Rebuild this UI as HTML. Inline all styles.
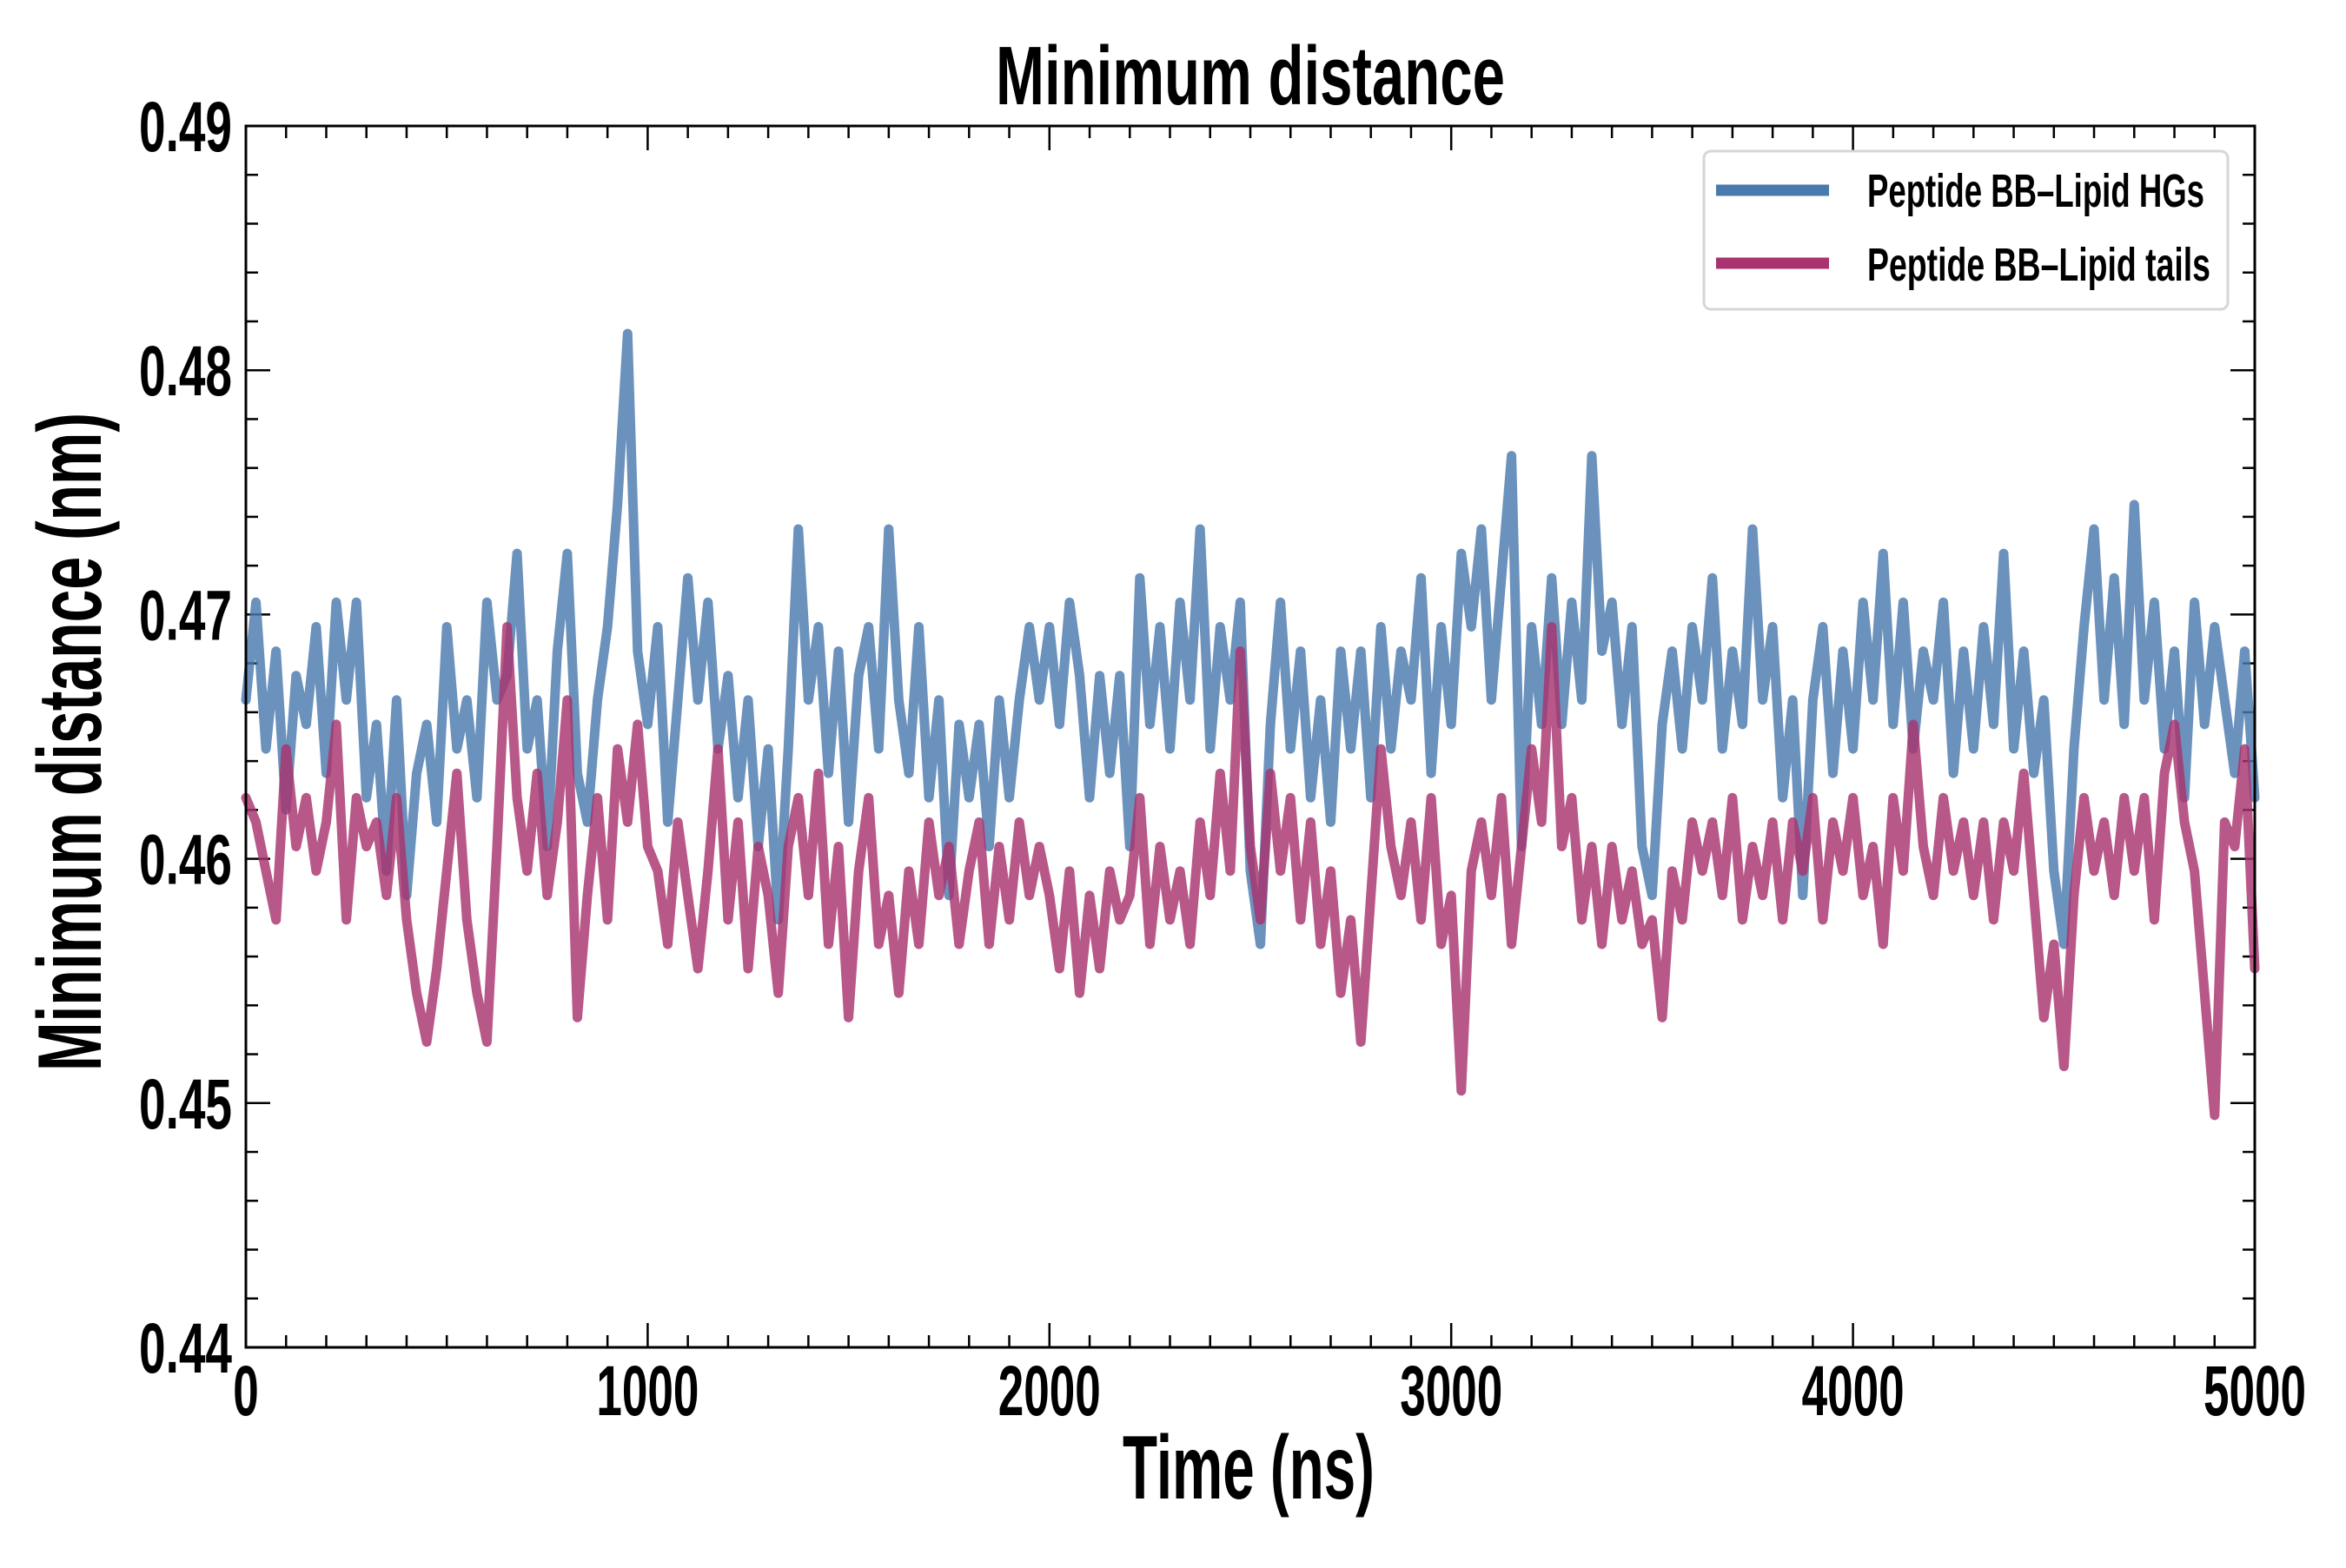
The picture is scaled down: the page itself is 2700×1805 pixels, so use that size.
<!DOCTYPE html>
<html><head><meta charset="utf-8"><style>
html,body{margin:0;padding:0;background:#fff;}
svg text{font-family:"Liberation Sans",sans-serif;font-weight:bold;fill:#000;}
</style></head>
<body>
<svg id="chart" width="2700" height="1800" viewBox="0 0 2700 1800" xmlns="http://www.w3.org/2000/svg">
<rect width="2700" height="1800" fill="#fff"/>
<g id="ticks"></g>
<g id="series"></g>
<rect x="283" y="145" width="2312" height="1406" fill="none" stroke="#000" stroke-width="3"/>
<g id="labels"></g>
<text x="1439" y="120" font-size="96" text-anchor="middle" textLength="586" lengthAdjust="spacingAndGlyphs">Minimum distance</text>
<text x="1437" y="1725" font-size="104" text-anchor="middle" textLength="290" lengthAdjust="spacingAndGlyphs">Time (ns)</text>
<text transform="translate(116,854) rotate(-90)" x="0" y="0" font-size="104" text-anchor="middle" textLength="758" lengthAdjust="spacingAndGlyphs">Minimum distance (nm)</text>
<g>
<rect x="1961" y="174" width="603" height="182" rx="8" fill="#fff" fill-opacity="0.85" stroke="#d6d6d6" stroke-width="3"/>
<g>
<line x1="1975" y1="219" x2="2105" y2="219" stroke="#4a7aad" stroke-width="13"/>
<text x="2149" y="238" font-size="54" textLength="388" lengthAdjust="spacingAndGlyphs">Peptide BB–Lipid HGs</text>
</g>
<g>
<line x1="1975" y1="303" x2="2105" y2="303" stroke="#a8336f" stroke-width="13"/>
<text x="2149" y="323" font-size="54" textLength="395" lengthAdjust="spacingAndGlyphs">Peptide BB–Lipid tails</text>
</g>
</g>
</svg>
<script>
const xTickValues = [0, 1000, 2000, 3000, 4000, 5000];
const yTickValues = [0.44, 0.45, 0.46, 0.47, 0.48, 0.49];
const yTickLabels = ["0.44", "0.45", "0.46", "0.47", "0.48", "0.49"];
const xTickLabels = ["0", "1000", "2000", "3000", "4000", "5000"];
const timeMax = 5000;
const hgsValues = [
.4665,.4705,.4645,.4685,.462,.4675,.4655,.4695,.4635,.4705,.4665,.4705,.4625,.4655,.4595,.4665,.4585,.4635,.4655,.4615,
.4695,.4645,.4665,.4625,.4705,.4665,.4675,.4725,.4645,.4665,.4605,.4685,.4725,.4635,.4615,.4665,.4695,.4745,.4815,.4685,
.4655,.4695,.4615,.4665,.4715,.4665,.4705,.4645,.4675,.4625,.4665,.4605,.4645,.4575,.4645,.4735,.4665,.4695,.4635,.4685,
.4615,.4675,.4695,.4645,.4735,.4665,.4635,.4695,.4625,.4665,.4585,.4655,.4625,.4655,.4605,.4665,.4625,.4665,.4695,.4665,
.4695,.4655,.4705,.4675,.4625,.4675,.4635,.4675,.4605,.4715,.4655,.4695,.4645,.4705,.4665,.4735,.4645,.4695,.4665,.4705,
.4595,.4565,.4655,.4705,.4645,.4685,.4625,.4665,.4615,.4685,.4645,.4685,.4625,.4695,.4645,.4685,.4665,.4715,.4635,.4695,
.4655,.4725,.4695,.4735,.4665,.4715,.4765,.4605,.4695,.4655,.4715,.4655,.4705,.4665,.4765,.4685,.4705,.4655,.4695,.4605,
.4585,.4655,.4685,.4645,.4695,.4665,.4715,.4645,.4685,.4655,.4735,.4665,.4695,.4625,.4665,.4585,.4665,.4695,.4635,.4685,
.4645,.4705,.4665,.4725,.4655,.4705,.4645,.4685,.4665,.4705,.4635,.4685,.4645,.4695,.4655,.4725,.4645,.4685,.4635,.4665,
.4595,.4565,.4645,.4695,.4735,.4665,.4715,.4655,.4745,.4665,.4705,.4645,.4685,.4625,.4705,.4655,.4695,.4665,.4635,.4685,
.4625];
const tailsValues = [
.4625,.4615,.4595,.4575,.4645,.4605,.4625,.4595,.4615,.4655,.4575,.4625,.4605,.4615,.4585,.4625,.4575,.4545,.4525,.4555,
.4595,.4635,.4575,.4545,.4525,.4605,.4695,.4625,.4595,.4635,.4585,.4615,.4665,.4535,.4585,.4625,.4575,.4645,.4615,.4655,
.4605,.4595,.4565,.4615,.4585,.4555,.4595,.4645,.4575,.4615,.4555,.4605,.4585,.4545,.4605,.4625,.4585,.4635,.4565,.4605,
.4535,.4595,.4625,.4565,.4585,.4545,.4595,.4565,.4615,.4585,.4605,.4565,.4595,.4615,.4565,.4605,.4575,.4615,.4585,.4605,
.4585,.4555,.4595,.4545,.4585,.4555,.4595,.4575,.4585,.4625,.4565,.4605,.4575,.4595,.4565,.4615,.4585,.4635,.4595,.4685,
.4605,.4575,.4635,.4595,.4625,.4575,.4615,.4565,.4595,.4545,.4575,.4525,.4585,.4645,.4605,.4585,.4615,.4575,.4625,.4565,
.4585,.4505,.4595,.4615,.4585,.4625,.4565,.4605,.4645,.4615,.4695,.4605,.4625,.4575,.4605,.4565,.4605,.4575,.4595,.4565,
.4575,.4535,.4595,.4575,.4615,.4595,.4615,.4585,.4625,.4575,.4605,.4585,.4615,.4575,.4615,.4595,.4625,.4575,.4615,.4595,
.4625,.4585,.4605,.4565,.4625,.4595,.4655,.4605,.4585,.4625,.4595,.4615,.4585,.4615,.4575,.4615,.4595,.4635,.4585,.4535,
.4565,.4515,.4585,.4625,.4595,.4615,.4585,.4625,.4595,.4625,.4575,.4635,.4655,.4615,.4595,.4545,.4495,.4615,.4605,.4645,
.4555];

const L=283,R=2595,T=145,B=1551;
const xs = v => L + (v/timeMax)*(R-L);
const ys = v => B - (v-0.44)/(0.05)*(B-T);
const NS="http://www.w3.org/2000/svg";
const mk = (tag, attrs, parent) => { const e=document.createElementNS(NS,tag); for(const k in attrs) e.setAttribute(k,attrs[k]); parent.appendChild(e); return e; };

const tg=document.getElementById('ticks');
for(let t=0;t<=5000;t+=100){
  const major = t%1000===0; const len = major?28:14; const x=xs(t);
  const a=mk('line',{x1:x,y1:B,x2:x,y2:B-len,stroke:'#000','stroke-width':2.5},tg);
  
  
  const b=mk('line',{x1:x,y1:T,x2:x,y2:T+len,stroke:'#000','stroke-width':2.5},tg);
  
  
}
for(let i=0;i<=25;i++){
  const v=0.44+i*0.002; const major=i%5===0; const len=major?28:14; const y=ys(v);
  const a=mk('line',{x1:L,y1:y,x2:L+len,y2:y,stroke:'#000','stroke-width':2.5},tg);
  
  
  const b=mk('line',{x1:R,y1:y,x2:R-len,y2:y,stroke:'#000','stroke-width':2.5},tg);
  
  
}
const lg=document.getElementById('labels');
xTickValues.forEach((v,i)=>{
  const w = xTickLabels[i].length*29.5;
  const e=mk('text',{x:xs(v),y:1629,'font-size':82,'text-anchor':'middle',textLength:w,lengthAdjust:'spacingAndGlyphs'},lg);
  e.textContent=xTickLabels[i];
  
  
});
yTickValues.forEach((v,i)=>{
  const e=mk('text',{x:267,y:ys(v)+29,'font-size':82,'text-anchor':'end',textLength:107,lengthAdjust:'spacingAndGlyphs'},lg);
  e.textContent=yTickLabels[i];
  
  
});
const sg=document.getElementById('series');
function path(vals,color,name){
  const step=timeMax/(vals.length-1);
  const d=vals.map((v,i)=>(i?'L':'M')+xs(i*step).toFixed(1)+' '+ys(v).toFixed(1)).join(' ');
  const p=mk('path',{d:d,fill:'none',stroke:color,'stroke-width':11,'stroke-opacity':0.82,'stroke-linejoin':'round','stroke-linecap':'round'},sg);
  
  
}
path(hgsValues,'#4a7aad','series-lipid-hgs');
path(tailsValues,'#a8336f','series-lipid-tails');
</script>
</body></html>
